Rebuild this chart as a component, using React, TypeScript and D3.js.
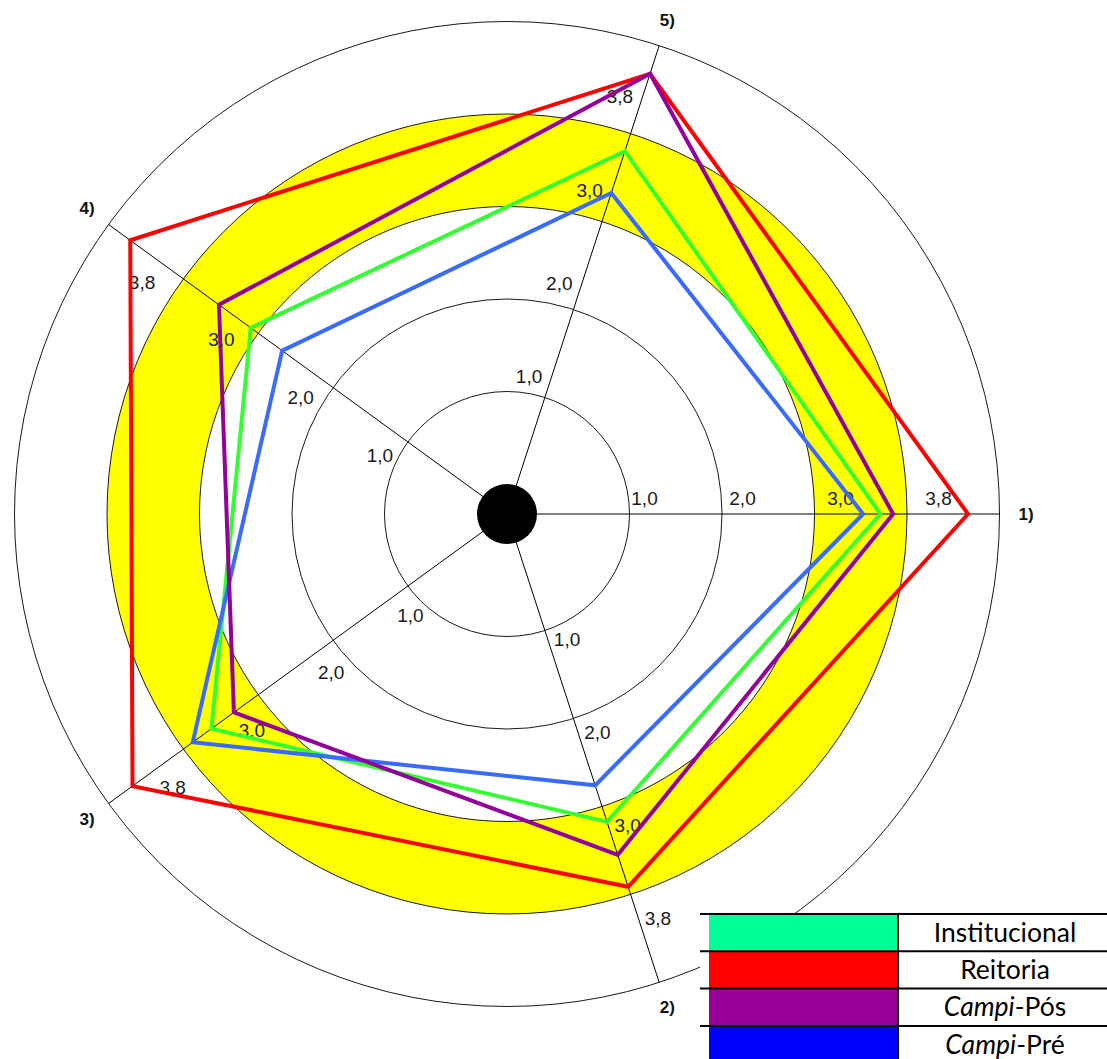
import React from 'react';
import * as d3 from 'd3';

// ---- data ----
const axisNames = ['1)', '2)', '3)', '4)', '5)'];
const ringValues = [1.0, 2.0, 3.0, 3.8];
const ringLabels = ['1,0', '2,0', '3,0', '3,8'];
const scaleStops = [0, 1.0, 2.0, 3.0, 3.8, 4.8]; // 0 = edge of central disc, 4.8 = outer ring
const bandRange = [3.0, 3.8];

const seriesNames = ['Institucional', 'Reitoria', 'Campi-Pós', 'Campi-Pré'];
const institucional = [3.57, 3.14, 3.5, 3.08, 3.64];
const reitoria = [4.46, 3.73, 4.48, 4.51, 4.48];
const campiPos = [3.68, 3.44, 3.26, 3.42, 4.48];
const campiPre = [3.42, 2.76, 3.7, 2.68, 3.26];
const seriesValues = [institucional, reitoria, campiPos, campiPre];

// ---- styles / layout ----
const lineColors = ['#33ff33', '#ff0000', '#94009a', '#3a6bff'];
const swatchColors = ['#00ff99', '#ff0000', '#990099', '#0000ff'];
const drawOrder = [1, 0, 3, 2];

const W = 1107;
const H = 1059;
const CX = 507;
const CY = 514;
const R0 = 30;
const STEP = 92.5;
const perpOffsets = [15.5, 18.5, 25, 27, 21.5];

const rScale = d3
  .scaleLinear()
  .domain(scaleStops)
  .range(scaleStops.map((_, i) => R0 + STEP * i));

const deg = Math.PI / 180;
const theta = (k: number) => k * 72 * deg; // screen angle, clockwise from 3 o'clock

const radialLine = d3
  .lineRadial<number>()
  .angle((_, i) => theta(i) + Math.PI / 2)
  .radius((v) => rScale(v))
  .curve(d3.curveLinearClosed);

const band = d3
  .arc()
  .innerRadius(rScale(bandRange[0]))
  .outerRadius(rScale(bandRange[1]))
  .startAngle(0)
  .endAngle(2 * Math.PI);

const outerR = rScale(scaleStops[scaleStops.length - 1]);

export default function App() {
  const legendX = 700;
  const legendTop = 914;
  const rowH = 37.3;
  const swatchX0 = 709;
  const swatchX1 = 898;
  const textCX = 1005;

  return (
    <div style={{ position: 'absolute', left: 0, top: 0 }}>
      <svg width={W} height={H} style={{ display: 'block', background: '#fff' }}>
        <g transform={`translate(${CX},${CY})`}>
          <path d={band({} as any) as string} fill="#ffff00" />
          {ringValues.map((v) => (
            <circle key={v} r={rScale(v)} fill="none" stroke="#1a1a1a" strokeWidth={1} />
          ))}
          <circle r={outerR} fill="none" stroke="#1a1a1a" strokeWidth={1} />
          {axisNames.map((_, k) => (
            <line
              key={k}
              x1={0}
              y1={0}
              x2={outerR * Math.cos(theta(k))}
              y2={outerR * Math.sin(theta(k))}
              stroke="#000"
              strokeWidth={1}
            />
          ))}
          {axisNames.map((_, k) =>
            ringValues.map((v, i) => {
              const a = rScale(v) + 15 + 5.5 * i;
              const d = perpOffsets[k];
              const t = theta(k);
              const x = a * Math.cos(t) + d * Math.cos(t - Math.PI / 2);
              const y = a * Math.sin(t) + d * Math.sin(t - Math.PI / 2);
              return (
                <text
                  key={`${k}-${i}`}
                  x={x}
                  y={y}
                  textAnchor="middle"
                  dominantBaseline="central"
                  fontFamily="'Liberation Sans', Arial, sans-serif"
                  fontSize={19}
                  fill="#1a1a1a"
                >
                  {ringLabels[i]}
                </text>
              );
            })
          )}
          {drawOrder.map((s) => (
            <path
              key={s}
              d={radialLine(seriesValues[s]) as string}
              fill="none"
              stroke={lineColors[s]}
              strokeWidth={4}
              strokeLinejoin="miter"
            />
          ))}
          <circle r={R0} fill="#000" />
          {axisNames.map((name, k) => (
            <text
              key={name}
              x={519 * Math.cos(theta(k))}
              y={519 * Math.sin(theta(k))}
              textAnchor="middle"
              dominantBaseline="central"
              fontFamily="'Liberation Sans', Arial, sans-serif"
              fontWeight="bold"
              fontSize={17}
              fill="#111"
            >
              {name}
            </text>
          ))}
        </g>
        <g>
          <rect x={legendX} y={legendTop} width={W - legendX} height={H - legendTop} fill="#fff" />
          {seriesNames.map((name, i) => {
            const y0 = legendTop + i * rowH;
            const parts = name.split('-');
            const italic = name.startsWith('Campi');
            return (
              <g key={name}>
                <rect x={swatchX0} y={y0} width={swatchX1 - swatchX0} height={rowH} fill={swatchColors[i]} />
                <text
                  x={textCX}
                  y={y0 + rowH / 2 + 9}
                  textAnchor="middle"
                  fontFamily="Lato, 'Open Sans', sans-serif"
                  fontSize={26.5}
                  fill="#000"
                >
                  {italic ? (
                    <>
                      <tspan fontStyle="italic">{parts[0]}</tspan>
                      <tspan>{'-' + parts[1]}</tspan>
                    </>
                  ) : (
                    name
                  )}
                </text>
              </g>
            );
          })}
          {d3.range(seriesNames.length + 1).map((i) => (
            <line
              key={i}
              x1={legendX}
              x2={W}
              y1={legendTop + i * rowH}
              y2={legendTop + i * rowH}
              stroke="#000"
              strokeWidth={2}
            />
          ))}
          <line x1={swatchX1} x2={swatchX1} y1={legendTop} y2={H} stroke="#000" strokeWidth={2} />
        </g>
      </svg>
    </div>
  );
}
